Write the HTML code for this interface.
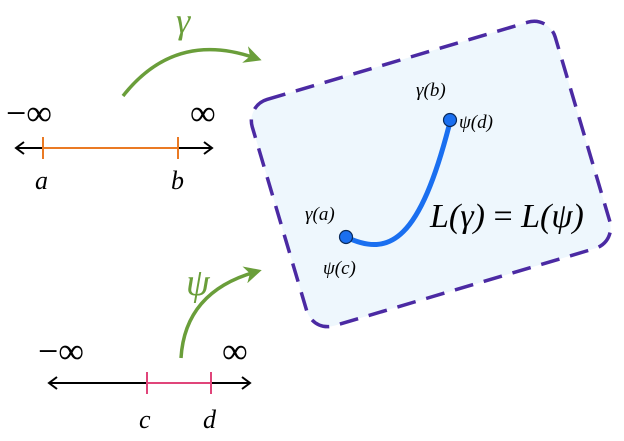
<!DOCTYPE html>
<html><head><style>body{margin:0;background:#fff}svg{display:block}text{font-family:"Liberation Serif",serif;font-style:italic}</style></head>
<body>
<svg width="624" height="441" viewBox="0 0 624 441">
<defs>
<marker id="ga" markerWidth="6" markerHeight="6" refX="3" refY="3" orient="auto" markerUnits="strokeWidth"><path d="M0,0.5 L5,3 L0,5.5 L1.5,3 Z" fill="#6a9e3a"/></marker>
</defs>
<rect x="273" y="56" width="316" height="236" rx="22" fill="#eef7fd" stroke="#4b2aa3" stroke-width="3.5" stroke-dasharray="19,11" transform="rotate(-16.5 431 174)"/>
<!-- top line -->
<line x1="17" y1="148" x2="211" y2="148" stroke="#000" stroke-width="2"/>
<path d="M24,142 L16,148 L24,154 M204,142 L212,148 L204,154" fill="none" stroke="#000" stroke-width="2"/>
<line x1="43" y1="148" x2="178" y2="148" stroke="#ea7a24" stroke-width="2"/>
<line x1="43" y1="137" x2="43" y2="159" stroke="#ea7a24" stroke-width="2"/>
<line x1="178" y1="137" x2="178" y2="159" stroke="#ea7a24" stroke-width="2"/>
<text x="6" y="125" font-size="36" style="font-style:normal">−∞</text>
<text x="190" y="125" font-size="36" style="font-style:normal">∞</text>
<text x="35" y="189" font-size="26">a</text>
<text x="171" y="189" font-size="26">b</text>
<!-- bottom line -->
<line x1="50" y1="383" x2="249" y2="383" stroke="#000" stroke-width="2"/>
<path d="M57,377 L49,383 L57,389 M242,377 L250,383 L242,389" fill="none" stroke="#000" stroke-width="2"/>
<line x1="147" y1="383" x2="211" y2="383" stroke="#e0457a" stroke-width="2"/>
<line x1="147" y1="372" x2="147" y2="394" stroke="#e0457a" stroke-width="2"/>
<line x1="211" y1="372" x2="211" y2="394" stroke="#e0457a" stroke-width="2"/>
<text x="38" y="363" font-size="36" style="font-style:normal">−∞</text>
<text x="222" y="363" font-size="36" style="font-style:normal">∞</text>
<text x="139" y="428" font-size="26">c</text>
<text x="203" y="428" font-size="26">d</text>
<!-- green arrows -->
<path d="M123,96 Q175,30 255,58" fill="none" stroke="#6a9e3a" stroke-width="3.5" marker-end="url(#ga)"/>
<text x="176" y="33" font-size="36" fill="#6a9e3a">γ</text>
<path d="M181,358 Q185,292 255,272" fill="none" stroke="#6a9e3a" stroke-width="3.5" marker-end="url(#ga)"/>
<text x="186" y="295" font-size="38" fill="#6a9e3a">ψ</text>
<!-- curve -->
<path d="M346,237 C390,258 420,240 450,122" fill="none" stroke="#1a6ff0" stroke-width="5"/>
<circle cx="346" cy="237" r="6.5" fill="#1a6ff0" stroke="#0a2a5a" stroke-width="1.2"/>
<circle cx="450" cy="120" r="6.5" fill="#1a6ff0" stroke="#0a2a5a" stroke-width="1.2"/>
<text x="416" y="96" font-size="19">γ(b)</text>
<text x="459" y="128" font-size="19">ψ(d)</text>
<text x="305" y="220" font-size="19">γ(a)</text>
<text x="323" y="274" font-size="19">ψ(c)</text>
<text x="430" y="227" font-size="34">L(γ) <tspan style="font-style:normal">=</tspan> L(ψ)</text>
</svg>
</body></html>
